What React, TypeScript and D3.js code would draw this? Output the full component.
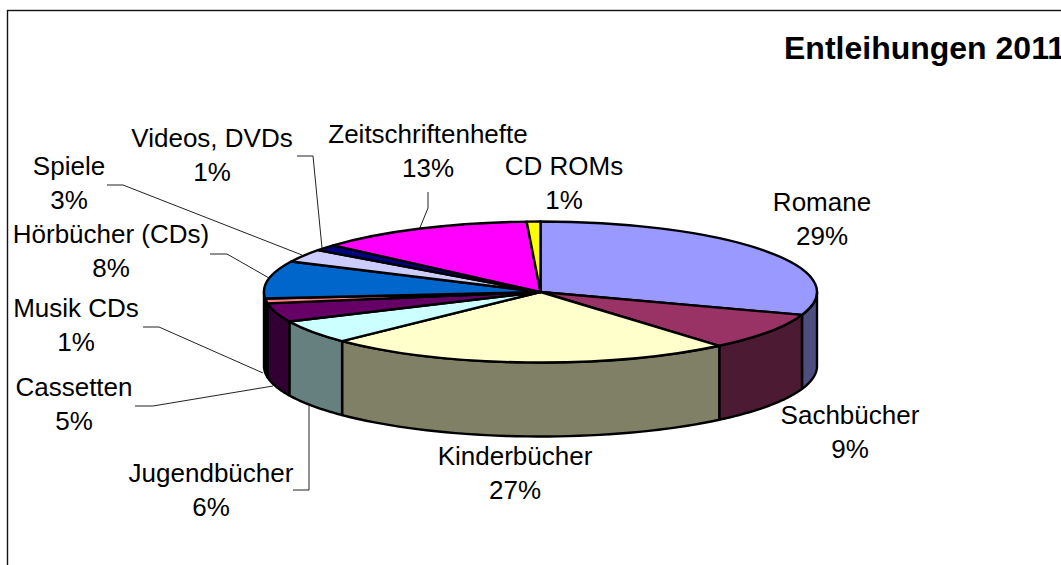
import React from "react";
import * as d3 from "d3";

const categories = ["Romane", "Sachbücher", "Kinderbücher", "Jugendbücher", "Cassetten", "Musik CDs", "Hörbücher (CDs)", "Spiele", "Videos, DVDs", "Zeitschriftenhefte", "CD ROMs"];
// the printed percentages
const percentLabels = ["29%", "9%", "27%", "6%", "5%", "1%", "8%", "3%", "1%", "13%", "1%"];
// slice shares as drawn in the picture (the tilted pie distorts them against the printed labels)
const sliceShares = [30.3, 8.55, 23.95, 5.4, 4.3, 1.1, 8.6, 3.0, 1.4, 12.7, 0.8];
const topColors = ["#9999FF", "#993366", "#FFFFCC", "#CCFFFF", "#660066", "#FF8080", "#0066CC", "#CCCCFF", "#000080", "#FF00FF", "#FFFF00"];

// label centres, x / y of the first line
const labelPos = [
  [822, 211], [850, 424], [515, 465], [211, 482], [74, 396], [76, 317], [111, 243], [69, 175], [212, 147], [428, 143], [564, 175],
];
// leader lines, only where the original has them
const leaders = [
  [[107, 185], [123, 185], [302, 255]],
  [[297, 156], [313, 156], [322, 248]],
  [[419, 230], [428, 208], [428, 192]],
  [[210, 254], [227, 254], [269, 278]],
  [[143, 327], [159, 327], [263, 373]],
  [[135, 406], [153, 406], [273, 386]],
  [[293, 490], [309, 490], [309, 406]],
];

const width = 1061;
const height = 565;
const cx = 540.5;
const cy = 292;
const rx = 276.5;
const ry = 70.5;
const depth = 74;
const font = "'Liberation Sans', Arial, sans-serif";

const pie = d3.pie<number>().value((d) => d).sort(null);
const slices = pie(sliceShares);
const arc = d3.arc<d3.PieArcDatum<number>>().innerRadius(0).outerRadius(rx);

const px = (a: number) => cx + rx * Math.sin(a);
const py = (a: number) => cy - ry * Math.cos(a);

// wall below the rim, only the part facing the viewer
function wallPath(a0: number, a1: number) {
  const from = Math.max(a0, Math.PI / 2);
  const to = Math.min(a1, (3 * Math.PI) / 2);
  if (to <= from) return null;
  const top = d3.range(0, 41).map((i) => from + ((to - from) * i) / 40);
  const pts = [
    ...top.map((a) => [px(a), py(a)]),
    ...top.slice().reverse().map((a) => [px(a), py(a) + depth]),
  ] as [number, number][];
  return d3.line()(pts) + "Z";
}

export default function App() {
  return (
    <svg
      width={width}
      height={height}
      style={{ position: "absolute", left: 0, top: 0, background: "#fff" }}
    >
      <rect x={7.5} y={10.5} width={1100} height={600} fill="none" stroke="#111" strokeWidth={1.4} />

      {leaders.map((l, i) => (
        <path key={i} d={d3.line()(l as [number, number][])!} fill="none" stroke="#222" strokeWidth={1} />
      ))}

      {slices.map((s, i) => {
        const d = wallPath(s.startAngle, s.endAngle);
        if (!d) return null;
        const c = d3.rgb(topColors[i]);
        return (
          <path key={i} d={d} fill={d3.rgb(c.r / 2, c.g / 2, c.b / 2).formatHex()} stroke="#000" strokeWidth={2.4} strokeLinejoin="round" />
        );
      })}

      <g transform={`translate(${cx},${cy}) scale(1,${ry / rx})`}>
        {slices.map((s, i) => (
          <path
            key={i}
            d={arc(s)!}
            fill={topColors[i]}
            stroke="#000"
            strokeWidth={2.4}
            strokeLinejoin="round"
            vectorEffect="non-scaling-stroke"
          />
        ))}
      </g>

      <g fontFamily={font} fontSize={26} fill="#000" textAnchor="middle">
        {categories.map((c, i) => (
          <text key={c} x={labelPos[i][0]} y={labelPos[i][1]}>
            <tspan x={labelPos[i][0]}>{c}</tspan>
            <tspan x={labelPos[i][0]} dy={33.5}>{percentLabels[i]}</tspan>
          </text>
        ))}
      </g>

      <text x={784} y={59} fontFamily={font} fontSize={32} fontWeight="bold" fill="#000">
        Entleihungen 2011
      </text>
    </svg>
  );
}
